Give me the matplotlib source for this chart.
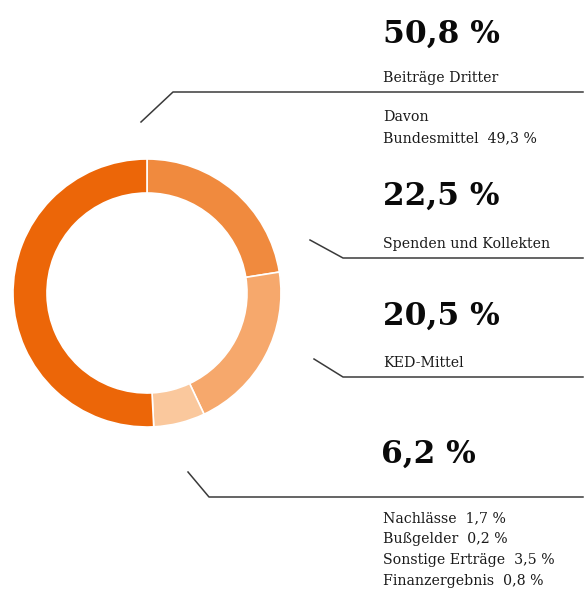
import matplotlib
matplotlib.use("Agg")
import matplotlib.pyplot as plt

# ---- data ----
categories = ["Spenden und Kollekten", "KED-Mittel", "Sonstiges", "Beiträge Dritter"]
shares = [22.5, 20.5, 6.2, 50.8]
share_labels = ["22,5 %", "20,5 %", "6,2 %", "50,8 %"]
colors = ["#F08A3E", "#F6A86C", "#FAC89D", "#EC6608"]
sub_bund_label = "Bundesmittel"
sub_bund_value = "49,3 %"
other_items = ["Nachlässe", "Bußgelder", "Sonstige Erträge", "Finanzergebnis"]
other_values = ["1,7 %", "0,2 %", "3,5 %", "0,8 %"]

W, H = 587, 592
fig = plt.figure(figsize=(W / 100, H / 100), dpi=100)

# donut axes: centre (147, 293), radius 134 px
cx, cy, r = 147, 293, 134
ax = fig.add_axes([(cx - r) / W, (H - (cy + r)) / H, 2 * r / W, 2 * r / H])
ax.pie(shares, colors=colors, startangle=90, counterclock=False, radius=1,
       wedgeprops=dict(width=34 / 134, edgecolor="white", linewidth=1.2))
ax.set_xlim(-1, 1)
ax.set_ylim(-1, 1)
ax.set_aspect("auto")
ax.axis("off")

# overlay in pixel coordinates
ov = fig.add_axes([0, 0, 1, 1])
ov.set_xlim(0, W)
ov.set_ylim(H, 0)
ov.axis("off")
ov.patch.set_alpha(0)

lc = "#3a3a3a"
lw = 1.1
# connector lines
ov.plot([141, 173, 583], [122, 92, 92], color=lc, lw=lw)
ov.plot([310, 343, 583], [240, 258, 258], color=lc, lw=lw)
ov.plot([314, 343, 583], [359, 377, 377], color=lc, lw=lw)
ov.plot([188, 209, 583], [472, 497, 497], color=lc, lw=lw)

big = dict(family="DejaVu Serif", fontweight="bold", fontsize=22.5, color="#0a0a0a",
           va="baseline", ha="left")
small = dict(family="DejaVu Serif", fontsize=10.2, color="#1a1a1a",
             va="baseline", ha="left")

x0 = 383
# Beiträge Dritter
ov.text(x0, 43, share_labels[3], **big)
ov.text(x0, 82, categories[3], **small)
ov.text(x0, 121, "Davon", **small)
ov.text(x0, 142, f"{sub_bund_label}  {sub_bund_value}", **small)
# Spenden und Kollekten
ov.text(x0, 205, share_labels[0], **big)
ov.text(x0, 248, categories[0], **small)
# KED-Mittel
ov.text(x0, 325, share_labels[1], **big)
ov.text(x0, 367, categories[1], **small)
# Sonstiges
ov.text(381, 463, share_labels[2], **big)
for i, (lab, val) in enumerate(zip(other_items, other_values)):
    ov.text(x0, 522 + i * 21, f"{lab}  {val}", **small)

fig.savefig("out.png", dpi=100, facecolor="white")
